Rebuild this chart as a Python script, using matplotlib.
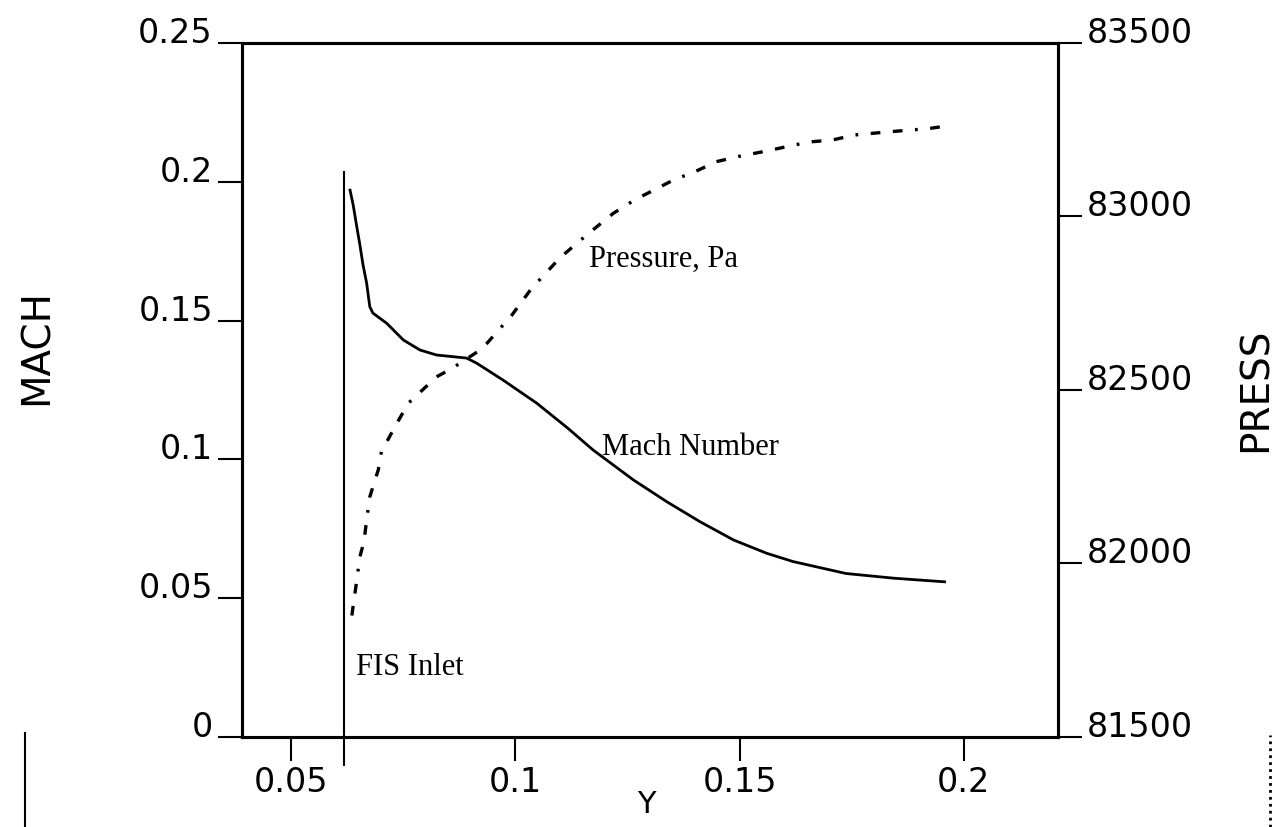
import matplotlib
matplotlib.use('Agg')
import matplotlib.pyplot as plt
from matplotlib.lines import Line2D

# Mach number along Y (solid line, left axis)
mach_y = [0.0631, 0.0638, 0.0646, 0.0653, 0.0660, 0.0668, 0.0675, 0.0682, 0.0713,
          0.0750, 0.0787, 0.0824, 0.0891, 0.0913, 0.0972, 0.1047, 0.1117, 0.1173,
          0.1263, 0.1337, 0.1411, 0.1486, 0.1560, 0.1619, 0.1737, 0.1844, 0.1957]
mach = [0.197, 0.1916, 0.1838, 0.1772, 0.170, 0.1635, 0.155, 0.1527, 0.149,
        0.143, 0.1394, 0.1376, 0.1365, 0.1347, 0.1286, 0.1203, 0.1112, 0.1034,
        0.0926, 0.0848, 0.0776, 0.0710, 0.0662, 0.0632, 0.0589, 0.0572, 0.0559]

# pressure along Y (dashed line, right axis)
press_y = [0.0635, 0.0646, 0.0653, 0.0662, 0.0668, 0.0675, 0.0694, 0.0701, 0.0731,
           0.0761, 0.0824, 0.0858, 0.0921, 0.0936, 0.0992, 0.1036, 0.1100, 0.1159,
           0.1218, 0.1266, 0.1352, 0.1400, 0.1448, 0.1501, 0.1553, 0.1604, 0.1656,
           0.1705, 0.1757, 0.1832, 0.1880, 0.1925, 0.1962]
press = [81850, 81952, 82020, 82063, 82125, 82192, 82270, 82322, 82394,
         82462, 82538, 82562, 82615, 82634, 82716, 82793, 82882, 82947,
         83009, 83048, 83105, 83129, 83158, 83174, 83187, 83201, 83215,
         83220, 83235, 83244, 83249, 83254, 83261]

fis_y = 0.0618      # FIS inlet position
fis_top = 0.2035

xticks = [0.05, 0.1, 0.15, 0.2]
xlabels = ['0.05', '0.1', '0.15', '0.2']
mticks = [0, 0.05, 0.1, 0.15, 0.2, 0.25]
mlabels = ['0', '0.05', '0.1', '0.15', '0.2', '0.25']
pticks = [81500, 82000, 82500, 83000, 83500]
plabels = ['81500', '82000', '82500', '83000', '83500']

plt.rcParams['font.family'] = ['DejaVu Sans']
plt.rcParams['lines.scale_dashes'] = False

fig = plt.figure(figsize=(12.77, 8.27), dpi=100)
ax = fig.add_axes([242/1277, 1-737/827, 816/1277, 694/827])
ax2 = ax.twinx()

ax.plot(mach_y, mach, color='black', lw=2.0)
ax.plot([fis_y, fis_y], [-0.01, fis_top], color='black', lw=1.5, clip_on=False)
ax2.plot(press_y, press, color='black', lw=2.4, linestyle=(0, (7, 9, 7, 9, 2, 9)))

ax.set_xlim(0.039, 0.221)
ax.set_ylim(0, 0.25)
ax2.set_ylim(81500, 83500)
ax.set_xticks(xticks, xlabels)
ax.set_yticks(mticks, mlabels)
ax2.set_yticks(pticks, plabels)

for a in (ax, ax2):
    a.tick_params(direction='out', length=17, width=1.5, labelsize=24, pad=4, color='black')
    for s in a.spines.values():
        s.set_linewidth(2.2)
for t in ax.get_yticklabels() + ax2.get_yticklabels():
    t.set_va('baseline')

ax.set_ylabel('MACH', fontsize=28)
ax.yaxis.set_label_coords(-0.228, 0.562)
ax2.set_ylabel('PRESS', fontsize=28)
ax2.yaxis.set_label_coords(1.219, 0.5)
ax.set_xlabel('Y', fontsize=22)
ax.xaxis.set_label_coords(0.496, -0.076)

serif = 'Liberation Serif'
ax.text(0.0644, 0.0223, 'FIS Inlet', family=serif, fontsize=22, va='baseline')
ax.text(0.1164, 0.1693, 'Pressure, Pa', family=serif, fontsize=22, va='baseline')
ax.text(0.1192, 0.1016, 'Mach Number', family=serif, fontsize=22, va='baseline')

# line samples at the bottom corners
fig.add_artist(Line2D([25/1277, 25/1277], [0, 94/827], transform=fig.transFigure,
                      color='black', lw=1.5))
fig.add_artist(Line2D([1270/1277, 1270/1277], [0, 92/827], transform=fig.transFigure,
                      color='black', lw=2.0, linestyle=(0, (2, 3))))

fig.savefig('out.png', dpi=100)
